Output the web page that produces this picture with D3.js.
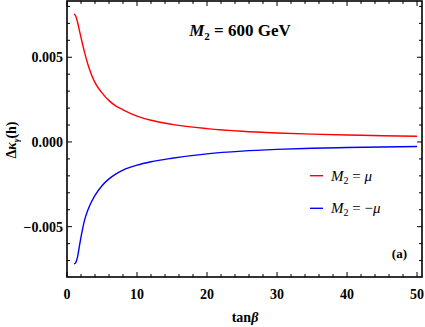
<!DOCTYPE html>
<html><head><meta charset="utf-8">
<script src="https://d3js.org/d3.v7.min.js"></script>
<style>body{margin:0;background:#fff}svg{display:block}text{font-family:"Liberation Serif","Times New Roman",serif}</style>
</head><body><svg id="c" width="425" height="327"></svg>
<script>
const tanBeta = [1,1.25,1.5,1.75,2,2.5,3,3.5,4,5,6,7,8,10,12,15,20,25,30,35,40,45,50];
const redValues = [0.00755,0.00742,0.00708,0.00662,0.00617,0.0053,0.00456,0.00397,0.0035,0.0029,0.00244,0.00212,0.0019,0.00153,0.00128,0.00104,0.00079,0.00063,0.00053,0.00046,0.00041,0.00037,0.00034];
const blueValues = [-0.0072,-0.00712,-0.0068,-0.0062,-0.00562,-0.00463,-0.004,-0.00353,-0.00315,-0.00258,-0.00218,-0.00188,-0.00166,-0.00137,-0.00117,-0.00096,-0.0007,-0.00054,-0.00044,-0.00037,-0.00033,-0.0003,-0.00027];
const xTicks = [0,10,20,30,40,50];
const yTicks = [-0.005,0,0.005];
const seriesLabels = ["= \u03bc","= \u2212\u03bc"];
const seriesColors = ["#ff0000","#0000ff"];

const svg = d3.select("#c");
const L=67,R=422,T=1,B=277;
const x = d3.scaleLinear().domain([0,50.71]).range([L,R]);
const y = d3.scaleLinear().domain([-0.00797,0.00832]).range([B,T]);

const g = svg.append("g");
const xMinor = d3.range(0,51,2);
const yMinor = d3.range(-8,9).map(d=>d*0.001);
xMinor.forEach(v=>{
  const maj = v%10===0, len = maj?5:3;
  g.append("line").attr("x1",x(v)).attr("x2",x(v)).attr("y1",B).attr("y2",B-len).attr("stroke","#000");
  g.append("line").attr("x1",x(v)).attr("x2",x(v)).attr("y1",T).attr("y2",T+len).attr("stroke","#000");
});
yMinor.forEach(v=>{
  if (y(v)<T||y(v)>B) return;
  const maj = Math.abs(Math.round(v*1000))%5===0, len = maj?5:3;
  g.append("line").attr("y1",y(v)).attr("y2",y(v)).attr("x1",L).attr("x2",L+len).attr("stroke","#000");
  g.append("line").attr("y1",y(v)).attr("y2",y(v)).attr("x1",R).attr("x2",R-len).attr("stroke","#000");
});
g.append("rect").attr("x",L).attr("y",T).attr("width",R-L).attr("height",B-T).attr("fill","none").attr("stroke","#000").attr("stroke-width",1.6);

xTicks.forEach(v=>{
  g.append("text").attr("x",x(v)).attr("y",299).attr("text-anchor","middle").attr("font-size",14).attr("font-weight","bold").text(v);
});
const fmt = v => v===0 ? "0.000" : (v<0?"\u2212":"")+Math.abs(v).toFixed(3);
yTicks.forEach(v=>{
  g.append("text").attr("x",63).attr("y",y(v)+5).attr("text-anchor","end").attr("font-size",14).attr("font-weight","bold").text(fmt(v));
});

const line = d3.line().x((d,i)=>x(tanBeta[i])).y(d=>y(d)).curve(d3.curveMonotoneX);
[redValues,blueValues].forEach((vals,k)=>{
  g.append("path").attr("d",line(vals)).attr("fill","none").attr("stroke",seriesColors[k]).attr("stroke-width",1.4);
});

const xl = g.append("text").attr("x",245).attr("y",322).attr("text-anchor","middle").attr("font-size",14).attr("font-weight","bold");
xl.append("tspan").text("tan");
xl.append("tspan").attr("font-style","italic").text("\u03b2");
const yl = g.append("text").attr("transform","translate(16,140) rotate(-90)").attr("text-anchor","middle").attr("font-size",14).attr("font-weight","bold");
yl.append("tspan").text("\u0394");
yl.append("tspan").attr("font-style","italic").text("\u03ba");
yl.append("tspan").attr("font-size",9).attr("dy",3).attr("font-style","italic").text("\u03b3");
yl.append("tspan").attr("dy",-3).text("(h)");

const tt = g.append("text").attr("x",240).attr("y",36).attr("text-anchor","middle").attr("font-size",17).attr("font-weight","bold");
tt.append("tspan").attr("font-style","italic").text("M");
tt.append("tspan").attr("font-size",11).attr("dy",4).text("2");
tt.append("tspan").attr("dy",-4).text(" = 600 GeV");

const ly = [175.7,208.3];
seriesLabels.forEach((lab,k)=>{
  g.append("line").attr("x1",310).attr("x2",323).attr("y1",ly[k]).attr("y2",ly[k]).attr("stroke",seriesColors[k]).attr("stroke-width",1.4);
  const t = g.append("text").attr("x",331).attr("y",ly[k]+5).attr("font-size",15);
  t.append("tspan").attr("font-style","italic").text("M");
  t.append("tspan").attr("font-size",10).attr("dy",3).text("2");
  t.append("tspan").attr("dy",-3).text(" "+lab.split("\u03bc")[0]);
  t.append("tspan").attr("font-style","italic").text("\u03bc");
});

g.append("text").attr("x",407).attr("y",258).attr("text-anchor","end").attr("font-size",13).attr("font-weight","bold").text("(a)");
</script></body></html>
